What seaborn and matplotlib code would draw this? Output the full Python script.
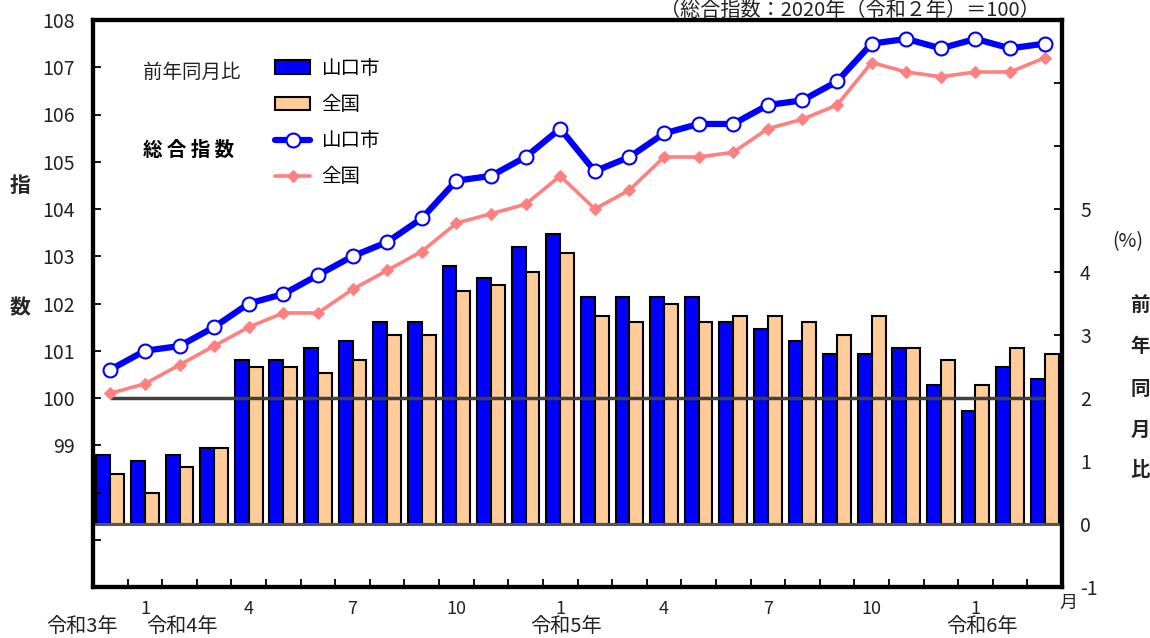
import numpy as np
import pandas as pd
import matplotlib
matplotlib.use("Agg")
import matplotlib.pyplot as plt
import seaborn as sns

# ---------------- data ----------------
months = ["2021-12",
          "2022-01", "2022-02", "2022-03", "2022-04", "2022-05", "2022-06",
          "2022-07", "2022-08", "2022-09", "2022-10", "2022-11", "2022-12",
          "2023-01", "2023-02", "2023-03", "2023-04", "2023-05", "2023-06",
          "2023-07", "2023-08", "2023-09", "2023-10", "2023-11", "2023-12",
          "2024-01", "2024-02", "2024-03"]

yamaguchi_index = [100.6, 101.0, 101.1, 101.5, 102.0, 102.2, 102.6, 103.0, 103.3, 103.8,
                   104.6, 104.7, 105.1, 105.7, 104.8, 105.1, 105.6, 105.8, 105.8, 106.2,
                   106.3, 106.7, 107.5, 107.6, 107.4, 107.6, 107.4, 107.5]
national_index = [100.1, 100.3, 100.7, 101.1, 101.5, 101.8, 101.8, 102.3, 102.7, 103.1,
                  103.7, 103.9, 104.1, 104.7, 104.0, 104.4, 105.1, 105.1, 105.2, 105.7,
                  105.9, 106.2, 107.1, 106.9, 106.8, 106.9, 106.9, 107.2]
yamaguchi_yoy = [1.1, 1.0, 1.1, 1.2, 2.6, 2.6, 2.8, 2.9, 3.2, 3.2,
                 4.1, 3.9, 4.4, 4.6, 3.6, 3.6, 3.6, 3.6, 3.2, 3.1,
                 2.9, 2.7, 2.7, 2.8, 2.2, 1.8, 2.5, 2.3]
national_yoy = [0.8, 0.5, 0.9, 1.2, 2.5, 2.5, 2.4, 2.6, 3.0, 3.0,
                3.7, 3.8, 4.0, 4.3, 3.3, 3.2, 3.5, 3.2, 3.3, 3.3,
                3.2, 3.0, 3.3, 2.8, 2.6, 2.2, 2.8, 2.7]

area_names = ["山口市", "全国"]
shown_months = [1, 4, 7, 10]
year_labels = ["令和3年", "令和4年", "令和5年", "令和6年"]
left_tick_values = list(range(96, 109))
left_tick_labels = ["", "", ""] + [str(v) for v in range(99, 109)]
right_tick_values = list(range(-1, 9))
right_tick_labels = [str(v) for v in range(-1, 6)] + ["", "", ""]

# ---------------- style ----------------
sns.set_theme(style="white")
plt.rcParams['font.family'] = ['Noto Sans CJK JP', 'DejaVu Sans']

W, H = 1150, 638
fig = plt.figure(figsize=(W / 100, H / 100), dpi=100)


def fx(px):
    return px / W


def fy(py):
    return 1 - py / H


ax = fig.add_axes([fx(93), fy(587), fx(1062) - fx(93), fy(20) - fy(587)])

BLUE = "#0000FF"
PEACH = "#FFCC99"
PINK = "#FF8080"

df_bar = pd.DataFrame({
    "month": months * 2,
    "value": yamaguchi_yoy + national_yoy,
    "area": [area_names[0]] * len(months) + [area_names[1]] * len(months),
})
sns.barplot(data=df_bar, x="month", y="value", hue="area", order=months,
            hue_order=area_names, palette={area_names[0]: BLUE, area_names[1]: PEACH},
            width=0.8, gap=0, saturation=1, edgecolor="black", linewidth=1.5,
            ax=ax, legend=True)
bar_handles, bar_labels = ax.get_legend_handles_labels()
if ax.get_legend() is not None:
    ax.get_legend().remove()

ax.axhline(0, color="#555555", lw=2.2, zorder=5)

ax2 = ax.twinx()
x_pos = np.arange(len(months))
ax2.hlines(100, x_pos[0], x_pos[-1], color="#404040", lw=2.5, zorder=1)
sns.lineplot(x=x_pos, y=national_index, ax=ax2, color=PINK, lw=2.6,
             marker="D", markersize=6.5, markeredgecolor=PINK, markerfacecolor=PINK,
             label=area_names[1], zorder=3)
sns.lineplot(x=x_pos, y=yamaguchi_index, ax=ax2, color=BLUE, lw=4.5,
             marker="o", markersize=10, markerfacecolor="white",
             markeredgecolor=BLUE, markeredgewidth=1.5,
             label=area_names[0], zorder=4)
line_handles, line_labels = ax2.get_legend_handles_labels()
if ax2.get_legend() is not None:
    ax2.get_legend().remove()
line_map = dict(zip(line_labels, line_handles))

# axes limits
ax.set_xlim(-0.5, len(months) - 0.5)
ax.set_ylim(-1, 8)
ax2.set_ylim(96, 108)

# y axes placement
ax.yaxis.tick_right()
ax2.yaxis.tick_left()
ax.set_yticks(right_tick_values)
ax.set_yticklabels(right_tick_labels)
ax2.set_yticks(left_tick_values)
ax2.set_yticklabels(left_tick_labels)
ax.tick_params(axis="y", which="both", left=False, right=True, labelleft=False,
               labelright=True, direction="in", length=6, width=1.3,
               color="black", labelsize=14, labelcolor="#222222", pad=13)
ax2.tick_params(axis="y", which="both", left=True, right=False, labelleft=True,
                labelright=False, direction="in", length=6, width=1.3,
                color="black", labelsize=14, labelcolor="#222222", pad=13)

# x axis: labels at month centres, ticks at boundaries
lab_pos, lab_txt = [], []
for i, m in enumerate(months):
    mn = int(m.split("-")[1])
    if mn in shown_months:
        lab_pos.append(i)
        lab_txt.append(str(mn))
ax.set_xticks(lab_pos)
ax.set_xticklabels(lab_txt)
ax.set_xticks(x_pos[:-1] + 0.5, minor=True)
ax.tick_params(axis="x", which="major", length=0, labelsize=13,
               labelcolor="#222222", pad=9, bottom=True)
ax.tick_params(axis="x", which="minor", direction="in", length=6, width=1.3,
               color="black", bottom=True, top=False)
ax.set_xlabel("")
ax.set_ylabel("")
ax2.set_ylabel("")
ax.grid(False)
ax2.grid(False)

for a in (ax, ax2):
    for s in a.spines.values():
        s.set_visible(True)
        s.set_color("black")
        s.set_linewidth(3)

# legend
handles = [bar_handles[0], bar_handles[1], line_map[area_names[0]], line_map[area_names[1]]]
labels = [area_names[0], area_names[1], area_names[0], area_names[1]]
leg = ax2.legend(handles, labels, loc="upper left",
                 bbox_to_anchor=((275 - 93) / 969, (587 - 58) / 567),
                 frameon=False, fontsize=14, borderaxespad=0, borderpad=0,
                 handlelength=1.8, handletextpad=0.6, labelspacing=0.78)
for t in leg.get_texts():
    t.set_color("black")

# annotations
fig.text(fx(143), fy(72), "前年同月比", fontsize=14, ha="left", va="center", color="#222222")
fig.text(fx(143), fy(150), "総 合 指 数", fontsize=14, ha="left", va="center",
         fontweight="bold", color="black")
fig.text(fx(1040), fy(0), "（総合指数：2020年（令和２年）＝100）", fontsize=14.5,
         ha="right", va="top", color="#222222")
fig.text(fx(20), fy(185), "指", fontsize=15, ha="center", va="center", fontweight="bold")
fig.text(fx(20), fy(308), "数", fontsize=15, ha="center", va="center", fontweight="bold")
fig.text(fx(1128), fy(242), "(%)", fontsize=14, ha="center", va="center", color="#222222")
for ch, yy in zip("前年同月比", [305, 347, 389, 430, 470]):
    fig.text(fx(1140), fy(yy), ch, fontsize=14, ha="center", va="center",
             fontweight="bold", color="#222222")
fig.text(fx(1068), fy(603), "月", fontsize=13, ha="center", va="center", color="#222222")
for txt, xx in zip(year_labels, [82, 182, 566, 982]):
    fig.text(fx(xx), fy(627), txt, fontsize=14.5, ha="center", va="center", color="#222222")

fig.savefig("out.png", dpi=100)
